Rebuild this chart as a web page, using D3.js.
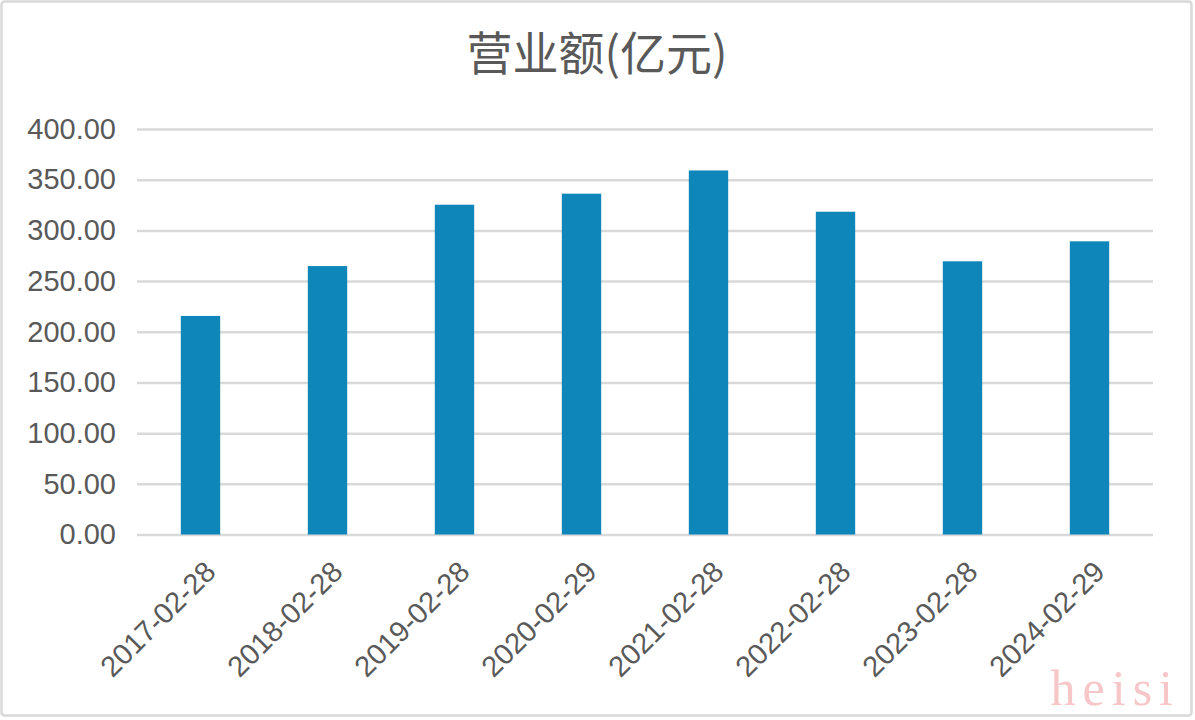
<!DOCTYPE html>
<html>
<head>
<meta charset="utf-8">
<script src="https://cdn.jsdelivr.net/npm/d3@7/dist/d3.min.js"></script>
<style>
  html, body { margin: 0; padding: 0; background: #fff; }
  svg { display: block; }
</style>
</head>
<body>
<svg id="chart" width="1195" height="720"></svg>
<script>
const title = "营业额(亿元)";
const categories = ["2017-02-28", "2018-02-28", "2019-02-28", "2020-02-29", "2021-02-28", "2022-02-28", "2023-02-28", "2024-02-29"];
const revenue = [215.6, 264.8, 325.3, 336.2, 359.1, 318.4, 269.5, 289.2];
const yTicks = [0, 50, 100, 150, 200, 250, 300, 350, 400];
const watermark = "heisi";

const W = 1195, H = 720;
const svg = d3.select("#chart");
const margin = { left: 137, right: 42, top: 129, bottom: 186 };

svg.append("rect")
  .attr("x", 1.5).attr("y", 1.5)
  .attr("width", W - 5).attr("height", H - 6)
  .attr("rx", 3)
  .attr("fill", "#fff")
  .attr("stroke", "#d9d9d9")
  .attr("stroke-width", 2.5);

const x = d3.scaleBand()
  .domain(categories)
  .range([margin.left, W - margin.right])
  .paddingInner(0.69)
  .paddingOuter(0.345);

const y = d3.scaleLinear()
  .domain([0, 400])
  .range([H - margin.bottom + 0.5, margin.top]);

// gridlines + y labels
const yAxis = d3.axisLeft(y)
  .tickValues(yTicks)
  .tickSize(-(W - margin.left - margin.right))
  .tickPadding(20)
  .tickFormat(d3.format(".2f"));

const gy = svg.append("g")
  .attr("transform", `translate(${margin.left},0)`)
  .call(yAxis);
gy.select(".domain").remove();
gy.selectAll(".tick line")
  .attr("stroke", "#d9d9d9")
  .attr("stroke-width", 2.5);
gy.selectAll(".tick text")
  .attr("fill", "#595959")
  .attr("x", -21)
  .style("font-family", "'Liberation Sans', Arial, sans-serif")
  .style("font-size", "29px");

// bars
svg.append("g").selectAll("rect")
  .data(categories)
  .join("rect")
  .attr("x", d => x(d))
  .attr("width", x.bandwidth())
  .attr("y", (d, i) => y(revenue[i]))
  .attr("height", (d, i) => y(0) - y(revenue[i]))
  .attr("fill", "#0e86b9");

// x axis labels
const xAxis = d3.axisBottom(x).tickSize(0).tickPadding(0);
const gx = svg.append("g")
  .attr("transform", `translate(0,${y(0)})`)
  .call(xAxis);
gx.select(".domain").remove();
gx.selectAll(".tick text")
  .attr("fill", "#595959")
  .attr("text-anchor", "end")
  .attr("dy", null)
  .attr("y", 0)
  .attr("transform", "translate(17,39) rotate(-45)")
  .style("font-family", "'Liberation Sans', Arial, sans-serif")
  .style("font-size", "29px");

// title
svg.append("text")
  .attr("x", 597)
  .attr("y", 70)
  .attr("text-anchor", "middle")
  .attr("fill", "#595959")
  .style("font-family", "'Noto Sans CJK SC', sans-serif")
  .style("font-size", "46px")
  .text(title);

// watermark
svg.append("text")
  .attr("x", 1180)
  .attr("y", 705)
  .attr("text-anchor", "end")
  .attr("fill", "#f6c6c8")
  .style("font-family", "'Liberation Serif', serif")
  .style("font-size", "50px")
  .style("letter-spacing", "7px")
  .text(watermark);
</script>
</body>
</html>
